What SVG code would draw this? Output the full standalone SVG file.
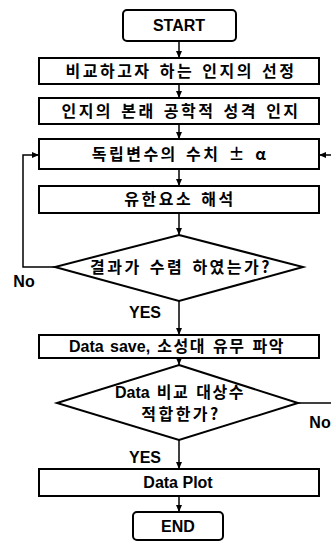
<svg xmlns="http://www.w3.org/2000/svg" width="331" height="542" viewBox="0 0 331 542">
<defs>
<marker id="ah" markerWidth="8" markerHeight="8" refX="7" refY="4" orient="auto" markerUnits="userSpaceOnUse">
<path d="M0,1 L7,4 L0,7 Z" fill="#000"/>
</marker>
<style>
.b{fill:#fff;stroke:#000;stroke-width:2}
.c{fill:none;stroke:#000;stroke-width:1.5;marker-end:url(#ah)}
.t{font-family:"Liberation Sans","Noto Sans CJK KR",sans-serif;font-size:16px;font-weight:bold;fill:#000;text-anchor:middle}
.k{font-family:"Noto Sans CJK KR","Liberation Sans",sans-serif;font-size:16px;font-weight:bold;fill:#000;text-anchor:middle;letter-spacing:2.5px;word-spacing:2px}
.lat{font-family:"Liberation Sans",sans-serif;letter-spacing:0}
</style>
</defs>
<rect width="331" height="542" fill="#fff"/>
<g id="connectors">
<line class="c" x1="179" y1="41" x2="179" y2="58"/>
<line class="c" x1="179" y1="84" x2="179" y2="98"/>
<line class="c" x1="179" y1="124" x2="179" y2="139"/>
<line class="c" x1="179" y1="169" x2="179" y2="186"/>
<line class="c" x1="179" y1="213" x2="179" y2="235"/>
<line class="c" x1="179" y1="301" x2="179" y2="335"/>
<line class="c" x1="179" y1="358" x2="179" y2="365"/>
<line class="c" x1="179" y1="440" x2="179" y2="469"/>
<line class="c" x1="179" y1="496" x2="179" y2="512"/>
<path class="c" d="M55,267 H23 V155 H39"/>
<path class="c" d="M298,403 H345 V155 H319"/>
</g>
<g id="start">
<rect class="b" x="123" y="10" width="113" height="31" rx="4"/>
<text class="t" x="179" y="31">START</text>
</g>
<g id="n1">
<rect class="b" x="39" y="58" width="280" height="26"/>
<text class="k" x="181" y="77">비교하고자 하는 인지의 선정</text>
</g>
<g id="n2">
<rect class="b" x="39" y="98" width="280" height="26"/>
<text class="k" x="181" y="117">인지의 본래 공학적 성격 인지</text>
</g>
<g id="n3">
<rect class="b" x="39" y="139" width="280" height="30"/>
<text class="k" x="180" y="160">독립변수의 수치 ± α</text>
</g>
<g id="n4">
<rect class="b" x="39" y="186" width="280" height="27"/>
<text class="k" x="180" y="205">유한요소 해석</text>
</g>
<g id="d1">
<polygon class="b" points="179,235 303,267 179,301 55,267"/>
<text class="k" x="181" y="273">결과가 수렴 하였는가?</text>
</g>
<g id="n5">
<rect class="b" x="39" y="335" width="280" height="23"/>
<text class="k" x="177" y="352" style="letter-spacing:1.5px"><tspan class="lat">Data save,</tspan> 소성대 유무 파악</text>
</g>
<g id="d2">
<polygon class="b" points="179,365 298,403 179,440 57,403"/>
<text class="k" x="180" y="398" style="letter-spacing:1.5px"><tspan class="lat">Data</tspan> 비교 대상수</text>
<text class="k" x="181" y="420">적합한가?</text>
</g>
<g id="n6">
<rect class="b" x="39" y="469" width="280" height="27"/>
<text class="t" x="178" y="488">Data Plot</text>
</g>
<g id="end">
<rect class="b" x="133" y="512" width="90" height="28" rx="4"/>
<text class="t" x="178" y="532">END</text>
</g>
<g id="labels">
<text class="t" x="24" y="287">No</text>
<text class="t" x="145" y="318">YES</text>
<text class="t" x="320" y="428">No</text>
<text class="t" x="145" y="463">YES</text>
</g>
</svg>
